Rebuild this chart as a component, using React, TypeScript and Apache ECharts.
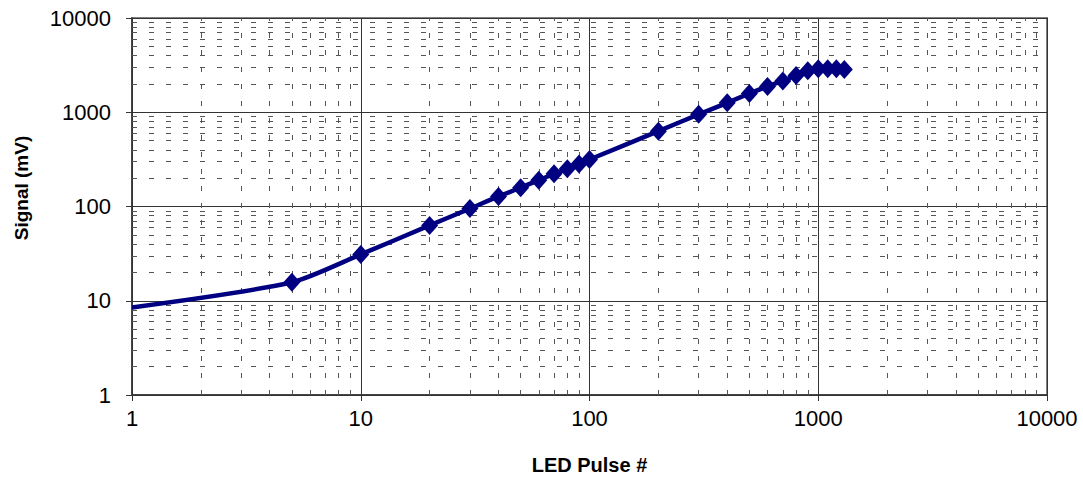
import React, { useEffect, useRef } from "react";
import * as echarts from "echarts";

const pulses = [1, 5, 10, 20, 30, 40, 50, 60, 70, 80, 90, 100, 200, 300, 400, 500, 600, 700, 800, 900, 1000, 1100, 1200, 1300];
const signal = [8.5, 15.7, 31, 63, 95, 128, 158, 190, 222, 252, 283, 315, 630, 950, 1260, 1580, 1880, 2150, 2450, 2750, 2900, 2900, 2900, 2850];
const noMarker = [true, false, false, false, false, false, false, false, false, false, false, false, false, false, false, false, false, false, false, false, false, false, false, false];
const minorX = [2, 3, 4, 5, 6, 7, 8, 9, 20, 30, 40, 50, 60, 70, 80, 90, 200, 300, 400, 500, 600, 700, 800, 900, 2000, 3000, 4000, 5000, 6000, 7000, 8000, 9000];
const minorY = [2, 3, 4, 5, 6, 7, 8, 9, 20, 30, 40, 50, 60, 70, 80, 90, 200, 300, 400, 500, 600, 700, 800, 900, 2000, 3000, 4000, 5000, 6000, 7000, 8000, 9000];
const xTitle = "LED Pulse #";
const yTitle = "Signal (mV)";

const FONT = "'Liberation Sans', Arial, Helvetica, sans-serif";
const fmt = (v: number) => String(Math.round(v));

export default function App() {
  const ref = useRef<HTMLDivElement>(null);
  useEffect(() => {
    if (!ref.current) return;
    const chart = echarts.init(ref.current, undefined, { renderer: "svg" });
    const data = pulses.map((x, i) => ({
      value: [x, signal[i]],
      symbol: noMarker[i] ? "none" : "diamond",
    }));
    const minorLines = [
      ...minorX.map((v) => ({ xAxis: v })),
      ...minorY.map((v) => ({ yAxis: v })),
    ];
    chart.setOption({
      animation: false,
      backgroundColor: "#ffffff",
      grid: {
        left: 132,
        right: 36,
        top: 18,
        bottom: 84,
        show: true,
        borderColor: "#808080",
        borderWidth: 2,
      },
      xAxis: {
        type: "log",
        logBase: 10,
        min: 1,
        max: 10000,
        name: xTitle,
        nameLocation: "middle",
        nameGap: 60,
        nameTextStyle: { fontFamily: FONT, fontSize: 20, fontWeight: "bold", color: "#000" },
        axisLine: { show: true, lineStyle: { color: "#333", width: 1.5 } },
        axisTick: { show: true, length: 6, lineStyle: { color: "#333" } },
        axisLabel: { fontFamily: FONT, fontSize: 22, color: "#000", margin: 12, formatter: fmt },
        splitLine: { show: true, lineStyle: { color: "#333", width: 1 } },
        minorTick: { show: false },
        minorSplitLine: { show: false },
      },
      yAxis: {
        type: "log",
        logBase: 10,
        min: 1,
        max: 10000,
        axisLine: { show: true, lineStyle: { color: "#333", width: 1.5 } },
        axisTick: { show: true, length: 6, lineStyle: { color: "#333" } },
        axisLabel: { fontFamily: FONT, fontSize: 22, color: "#000", margin: 21, formatter: fmt },
        splitLine: { show: true, lineStyle: { color: "#333", width: 1 } },
        minorTick: { show: false },
        minorSplitLine: { show: false },
      },
      graphic: [
        {
          type: "text",
          x: 21,
          y: 188,
          rotation: Math.PI / 2,
          style: {
            text: yTitle,
            fontFamily: FONT,
            fontSize: 19,
            fontWeight: "bold",
            fill: "#000",
            align: "center",
            verticalAlign: "middle",
          },
        },
      ],
      series: [
        {
          type: "line",
          data: pulses.map((x, i) => [x, signal[i]]),
          symbol: "none",
          lineStyle: { opacity: 0 },
          z: 1,
          silent: true,
          markLine: {
            silent: true,
            symbol: ["none", "none"],
            label: { show: false },
            lineStyle: { color: "#555", width: 1, type: [5, 12] },
            emphasis: { disabled: true },
            data: minorLines,
          },
        },
        {
          type: "line",
          data,
          smooth: 0.25,
          symbolSize: [17, 19],
          itemStyle: { color: "#000080" },
          lineStyle: { color: "#000080", width: 4.5 },
          z: 5,
        },
      ],
    });
    return () => chart.dispose();
  }, []);
  return (
    <div
      ref={ref}
      style={{ position: "fixed", left: 0, top: 0, width: 1083, height: 480, background: "#fff" }}
    />
  );
}
